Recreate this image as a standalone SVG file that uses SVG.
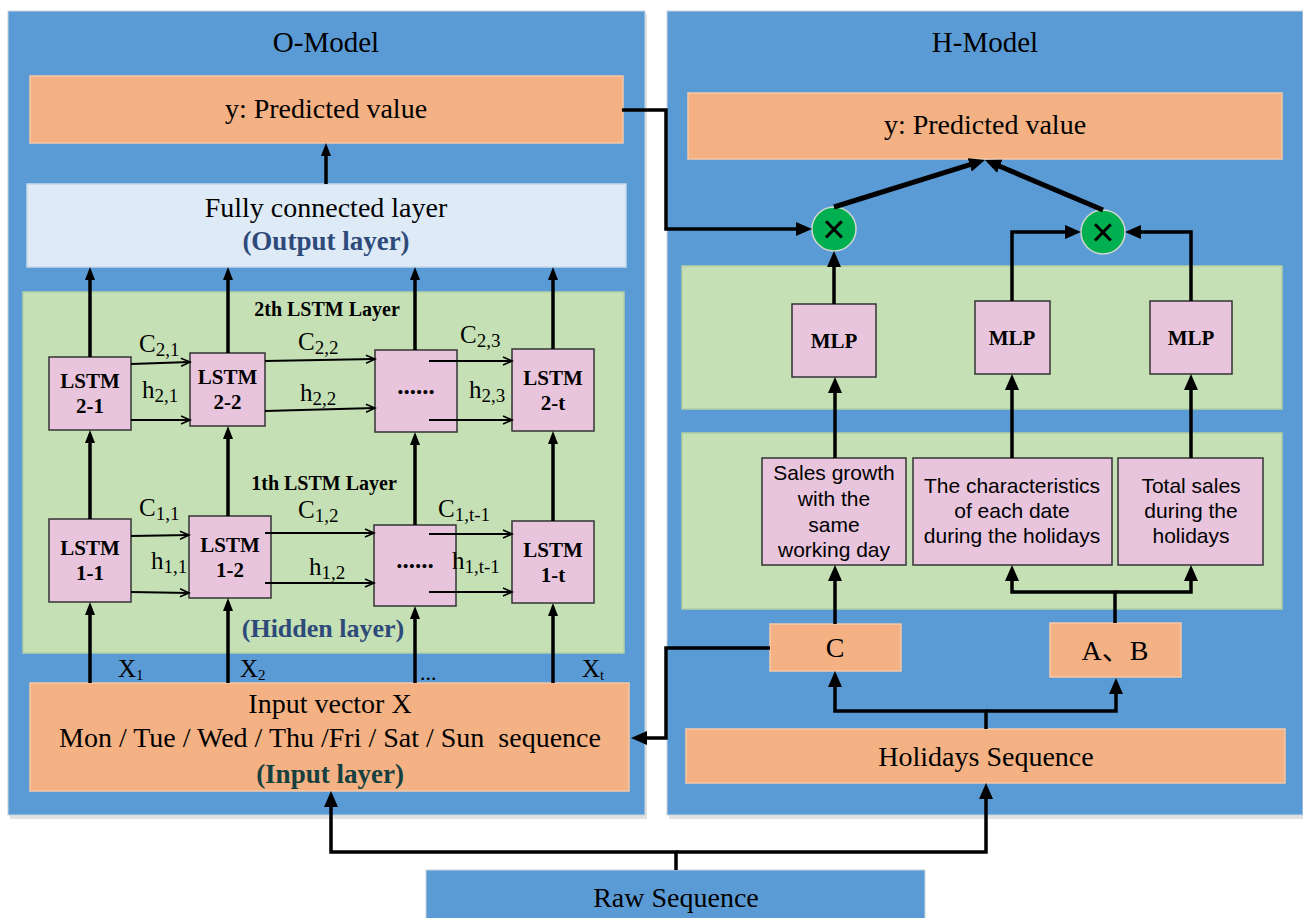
<svg xmlns="http://www.w3.org/2000/svg" width="1303" height="918" viewBox="0 0 1303 918">
  <defs>
    <style>
      .panel{fill:#5B9BD5;stroke:#c9d3dd;stroke-width:1}
      .shadow{fill:#e2e2e2}
      .orange{fill:#F4B183;stroke:#f6c9a8;stroke-width:1.5}
      .lightblue{fill:#DEEBF7;stroke:#c9d8e8;stroke-width:1.5}
      .green{fill:#C5E0B4;stroke:#b5cfa5;stroke-width:1.5}
      .pink{fill:#E8C5DD;stroke:#333;stroke-width:1.5}
      .mult{fill:#00B050;stroke:#cfd8cf;stroke-width:1.5}
      .serif{font-family:"Liberation Serif","Times New Roman",serif;fill:#000}
      .sans{font-family:"Liberation Sans",Arial,sans-serif;fill:#000}
      .mid{text-anchor:middle}
      .big{font-size:28px}
      .title{font-size:29px}
      .cell{font-size:21px;font-weight:bold}
      .feat{font-size:21px}
      .lbl{font-size:25px}
      .sub{font-size:19px}
      .layer{font-size:20px;font-weight:bold}
      .navy{fill:#2E4A7A;font-weight:bold}
      .teal{fill:#15403F;font-weight:bold}
      .thick{fill:none;stroke:#000;stroke-width:3.5}
      .thin{fill:none;stroke:#000;stroke-width:2}
      .wire{fill:none;stroke:#000;stroke-width:3.5}
      .diag{fill:none;stroke:#000;stroke-width:5}
      .times{font-size:40px}
    </style>
    <!-- small filled head for the LSTM stack -->
    <marker id="hs" markerUnits="userSpaceOnUse" markerWidth="14" markerHeight="12" refX="2" refY="5" orient="auto">
      <path d="M0,0 L13,5 L0,10 z" fill="#000"/>
    </marker>
    <!-- large filled head for the wiring -->
    <marker id="hb" markerUnits="userSpaceOnUse" markerWidth="17" markerHeight="15" refX="2" refY="7" orient="auto">
      <path d="M0,0 L16,7 L0,14 z" fill="#000"/>
    </marker>
    <!-- open head for cell/hidden state links -->
    <marker id="ho" markerUnits="userSpaceOnUse" markerWidth="12" markerHeight="12" refX="10" refY="5" orient="auto">
      <path d="M1,1 L10,5 L1,9" fill="none" stroke="#000" stroke-width="1.6"/>
    </marker>
  </defs>

  <rect width="1303" height="918" fill="#fff"/>

  <!-- panels -->
  <g id="o-model">
    <rect class="shadow" x="10" y="14" width="637" height="805"/>
    <rect class="panel" x="8" y="11" width="637" height="804"/>
    <text class="serif title mid" x="326" y="52">O-Model</text>
  </g>
  <g id="h-model">
    <rect class="shadow" x="669" y="14" width="634" height="805"/>
    <rect class="panel" x="667" y="11" width="636" height="804"/>
    <text class="serif title mid" x="985" y="52">H-Model</text>
  </g>

  <!-- O-Model layers -->
  <g id="o-output">
    <rect class="orange" x="30" y="76" width="593" height="67"/>
    <text class="serif big mid" x="326" y="118">y: Predicted value</text>
  </g>
  <g id="o-dense">
    <rect class="lightblue" x="27" y="184" width="599" height="83"/>
    <text class="serif big mid" x="326" y="217">Fully connected layer</text>
    <text class="serif big mid navy" x="326" y="250" style="font-size:27px">(Output layer)</text>
  </g>
  <g id="o-hidden">
    <rect class="green" x="23" y="292" width="601" height="361"/>
    <text class="serif layer mid" x="327" y="316">2th LSTM Layer</text>
    <text class="serif layer mid" x="324" y="490">1th LSTM Layer</text>
    <text class="serif mid navy" x="323" y="637" style="font-size:26px">(Hidden layer)</text>
  </g>

  <g id="lstm-2-1">
    <rect class="pink" x="49" y="357" width="82" height="73"/>
    <text class="serif cell mid" x="90" y="388">LSTM</text>
    <text class="serif cell mid" x="90" y="413">2-1</text>
  </g>
  <g id="lstm-2-2">
    <rect class="pink" x="190" y="353" width="75" height="73"/>
    <text class="serif cell mid" x="227.5" y="384">LSTM</text>
    <text class="serif cell mid" x="227.5" y="409">2-2</text>
  </g>
  <g id="lstm-2-mid">
    <rect class="pink" x="375" y="350" width="82" height="82"/>
    <text class="serif cell mid" x="416" y="394" style="font-size:25px">......</text>
  </g>
  <g id="lstm-2-t">
    <rect class="pink" x="512" y="349" width="82" height="82"/>
    <text class="serif cell mid" x="553" y="385">LSTM</text>
    <text class="serif cell mid" x="553" y="410">2-t</text>
  </g>
  <g id="lstm-1-1">
    <rect class="pink" x="49" y="519" width="82" height="83"/>
    <text class="serif cell mid" x="90" y="555">LSTM</text>
    <text class="serif cell mid" x="90" y="580">1-1</text>
  </g>
  <g id="lstm-1-2">
    <rect class="pink" x="189" y="516" width="82" height="82"/>
    <text class="serif cell mid" x="230" y="552">LSTM</text>
    <text class="serif cell mid" x="230" y="577">1-2</text>
  </g>
  <g id="lstm-1-mid">
    <rect class="pink" x="374" y="525" width="82" height="81"/>
    <text class="serif cell mid" x="415" y="568" style="font-size:25px">......</text>
  </g>
  <g id="lstm-1-t">
    <rect class="pink" x="512" y="521" width="82" height="82"/>
    <text class="serif cell mid" x="553" y="557">LSTM</text>
    <text class="serif cell mid" x="553" y="582">1-t</text>
  </g>

  <!-- state labels -->
  <g id="state-labels" class="serif lbl">
    <text x="139" y="352">C<tspan class="sub" dy="4">2,1</tspan></text>
    <text x="142" y="398">h<tspan class="sub" dy="4">2,1</tspan></text>
    <text x="298" y="350">C<tspan class="sub" dy="4">2,2</tspan></text>
    <text x="300" y="401">h<tspan class="sub" dy="4">2,2</tspan></text>
    <text x="460" y="343">C<tspan class="sub" dy="4">2,3</tspan></text>
    <text x="469" y="398">h<tspan class="sub" dy="4">2,3</tspan></text>
    <text x="139" y="516">C<tspan class="sub" dy="4">1,1</tspan></text>
    <text x="151" y="569">h<tspan class="sub" dy="4">1,1</tspan></text>
    <text x="298" y="518">C<tspan class="sub" dy="4">1,2</tspan></text>
    <text x="309" y="575">h<tspan class="sub" dy="4">1,2</tspan></text>
    <text x="438" y="517">C<tspan class="sub" dy="4">1,t-1</tspan></text>
    <text x="452" y="569">h<tspan class="sub" dy="4">1,t-1</tspan></text>
    <text x="118" y="677" style="font-size:25px">X<tspan style="font-size:15px" dy="3">1</tspan></text>
    <text x="240" y="677" style="font-size:25px">X<tspan style="font-size:15px" dy="3">2</tspan></text>
    <text x="420" y="680" style="font-size:22px">...</text>
    <text x="582" y="677" style="font-size:25px">X<tspan style="font-size:15px" dy="3">t</tspan></text>
  </g>

  <g id="o-input">
    <rect class="orange" x="30" y="683" width="599" height="108"/>
    <text class="serif big mid" x="330" y="713">Input vector X</text>
    <text class="serif big mid" x="330" y="747" xml:space="preserve">Mon / Tue / Wed / Thu /Fri / Sat / Sun  sequence</text>
    <text class="serif big mid teal" x="330" y="783" style="font-size:27px">(Input layer)</text>
  </g>

  <!-- H-Model -->
  <g id="h-output">
    <rect class="orange" x="688" y="93" width="594" height="66"/>
    <text class="serif big mid" x="985" y="134">y: Predicted value</text>
  </g>
  <g id="mult-1">
    <circle class="mult" cx="834" cy="229" r="22"/>
    <text class="sans mid times" x="834" y="243">×</text>
  </g>
  <g id="mult-2">
    <circle class="mult" cx="1103" cy="232" r="22"/>
    <text class="sans mid times" x="1103" y="246">×</text>
  </g>
  <g id="h-mlp-band">
    <rect class="green" x="682" y="266" width="600" height="143"/>
  </g>
  <g id="mlp-1">
    <rect class="pink" x="792" y="304" width="84" height="73"/>
    <text class="serif cell mid" x="834" y="348">MLP</text>
  </g>
  <g id="mlp-2">
    <rect class="pink" x="975" y="301" width="75" height="73"/>
    <text class="serif cell mid" x="1012" y="345">MLP</text>
  </g>
  <g id="mlp-3">
    <rect class="pink" x="1150" y="301" width="82" height="73"/>
    <text class="serif cell mid" x="1191" y="345">MLP</text>
  </g>
  <g id="h-feature-band">
    <rect class="green" x="682" y="433" width="600" height="176"/>
  </g>
  <g id="feat-growth">
    <rect class="pink" x="762" y="458" width="144" height="107"/>
    <text class="sans feat mid" x="834" y="480">Sales growth</text>
    <text class="sans feat mid" x="834" y="506">with the</text>
    <text class="sans feat mid" x="834" y="532">same</text>
    <text class="sans feat mid" x="834" y="557">working day</text>
  </g>
  <g id="feat-dates">
    <rect class="pink" x="913" y="458" width="199" height="107"/>
    <text class="sans feat mid" x="1012" y="493">The characteristics</text>
    <text class="sans feat mid" x="1012" y="518">of each date</text>
    <text class="sans feat mid" x="1012" y="543">during the holidays</text>
  </g>
  <g id="feat-total">
    <rect class="pink" x="1118" y="458" width="145" height="107"/>
    <text class="sans feat mid" x="1191" y="493">Total sales</text>
    <text class="sans feat mid" x="1191" y="518">during the</text>
    <text class="sans feat mid" x="1191" y="543">holidays</text>
  </g>
  <g id="input-c">
    <rect class="orange" x="770" y="624" width="131" height="47"/>
    <text class="serif big mid" x="835" y="657">C</text>
  </g>
  <g id="input-ab">
    <rect class="orange" x="1050" y="623" width="131" height="54"/>
    <text class="mid" x="1115" y="660" style="font-family:'Liberation Serif','Noto Sans CJK SC',serif;font-size:28px">A、B</text>
  </g>
  <g id="holidays">
    <rect class="orange" x="686" y="729" width="599" height="54"/>
    <text class="serif big mid" x="986" y="766">Holidays Sequence</text>
  </g>
  <g id="raw">
    <rect fill="#5B9BD5" stroke="#c9d3dd" stroke-width="1" x="426" y="870" width="499" height="50"/>
    <text class="serif big mid" x="676" y="907">Raw Sequence</text>
  </g>

  <!-- connectors -->
  <g id="connectors">
    <!-- LSTM stack, bottom to top -->
    <path class="thick" marker-end="url(#hs)" d="M90,683 V613"/>
    <path class="thick" marker-end="url(#hs)" d="M90,519 V441"/>
    <path class="thick" marker-end="url(#hs)" d="M90,357 V278"/>
    <path class="thick" marker-end="url(#hs)" d="M228,683 V609"/>
    <path class="thick" marker-end="url(#hs)" d="M228,516 V437"/>
    <path class="thick" marker-end="url(#hs)" d="M228,353 V278"/>
    <path class="thick" marker-end="url(#hs)" d="M415,683 V617"/>
    <path class="thick" marker-end="url(#hs)" d="M415,525 V443"/>
    <path class="thick" marker-end="url(#hs)" d="M415,350 V278"/>
    <path class="thick" marker-end="url(#hs)" d="M553,683 V614"/>
    <path class="thick" marker-end="url(#hs)" d="M553,521 V442"/>
    <path class="thick" marker-end="url(#hs)" d="M553,349 V278"/>
    <path class="thick" marker-end="url(#hs)" d="M326,184 V154"/>

    <!-- cell and hidden states along time -->
    <path class="thin" marker-end="url(#ho)" d="M131,364 L190,362"/>
    <path class="thin" marker-end="url(#ho)" d="M131,420 L190,420"/>
    <path class="thin" marker-end="url(#ho)" d="M265,361 L375,359"/>
    <path class="thin" marker-end="url(#ho)" d="M265,411 L375,408"/>
    <path class="thin" marker-end="url(#ho)" d="M429,361 L512,361"/>
    <path class="thin" marker-end="url(#ho)" d="M429,420 L512,420"/>
    <path class="thin" marker-end="url(#ho)" d="M131,536 L189,535"/>
    <path class="thin" marker-end="url(#ho)" d="M131,592 L189,593"/>
    <path class="thin" marker-end="url(#ho)" d="M265,533 L374,533"/>
    <path class="thin" marker-end="url(#ho)" d="M265,583 L374,583"/>
    <path class="thin" marker-end="url(#ho)" d="M429,534 L512,534"/>
    <path class="thin" marker-end="url(#ho)" d="M429,592 L512,592"/>

    <!-- O-Model output into H-Model -->
    <path class="wire" marker-end="url(#hb)" d="M622,110 H666 V229 H798"/>
    <!-- C back into the input layer -->
    <path class="wire" marker-end="url(#hb)" d="M770,648 H666 V738 H645"/>

    <!-- MLPs to multipliers -->
    <path class="wire" marker-end="url(#hb)" d="M834,304 V265"/>
    <path class="wire" marker-end="url(#hb)" d="M1012,301 V232 H1067"/>
    <path class="wire" marker-end="url(#hb)" d="M1191,301 V232 H1139"/>
    <path class="diag" marker-end="url(#hb)" d="M834,207 L971.6,164.2"/>
    <path class="diag" marker-end="url(#hb)" d="M1103,210 L997.9,165.5"/>

    <!-- features to MLPs -->
    <path class="wire" marker-end="url(#hb)" d="M835,458 V391"/>
    <path class="wire" marker-end="url(#hb)" d="M1012,458 V388"/>
    <path class="wire" marker-end="url(#hb)" d="M1191,458 V388"/>

    <!-- inputs to features -->
    <path class="wire" marker-end="url(#hb)" d="M835,624 V579"/>
    <path class="wire" marker-end="url(#hb)" d="M1115,623 V592 H1012 V579"/>
    <path class="wire" marker-end="url(#hb)" d="M1115,592 H1191 V579"/>

    <!-- holidays sequence to C and A、B -->
    <path class="wire" marker-end="url(#hb)" d="M986,729 V711 H835 V685"/>
    <path class="wire" marker-end="url(#hb)" d="M986,711 H1116 V692"/>

    <!-- raw sequence split -->
    <path class="wire" marker-end="url(#hb)" d="M676,870 V852 H331 V805"/>
    <path class="wire" marker-end="url(#hb)" d="M676,852 H986 V797"/>
  </g>
</svg>
